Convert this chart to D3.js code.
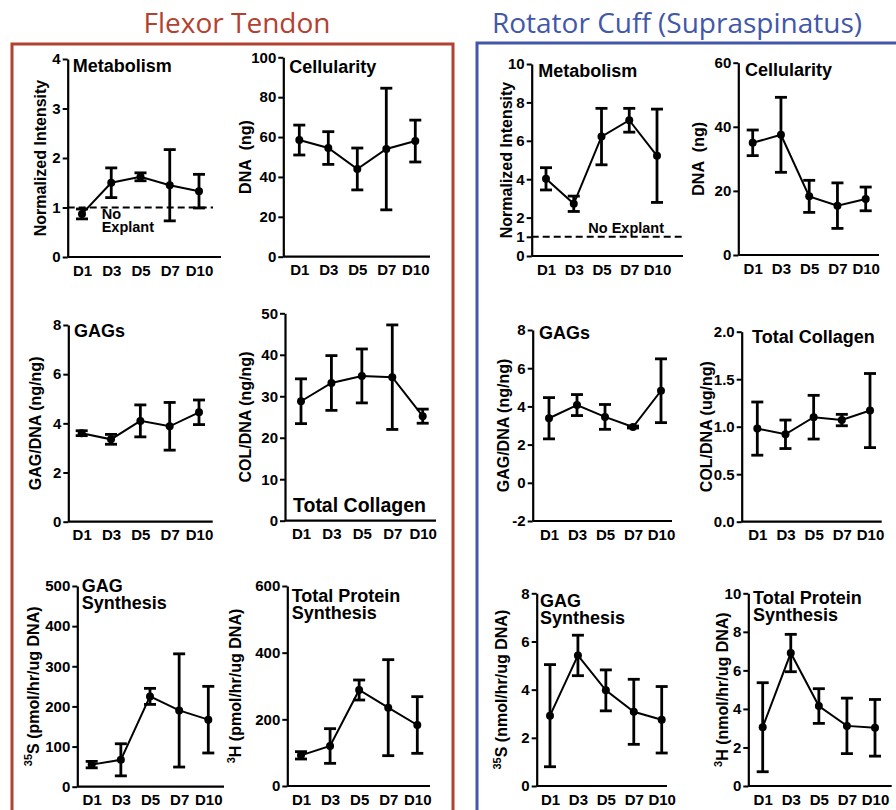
<!DOCTYPE html>
<html>
<head>
<meta charset="utf-8">
<script src="https://cdn.jsdelivr.net/npm/d3@7"></script>
<style>
  body { margin: 0; background: #fff; }
  svg { display: block; font-family: "Liberation Sans", Arial, sans-serif; }
  .tick text { font-weight: bold; font-size: 15px; fill: #000; }
</style>
</head>
<body>
<div id="my_dataviz"></div>
<script>
// categories
var days = ["D1", "D3", "D5", "D7", "D10"];

// flexor tendon (mean, sd)
var flexMetabolism = [0.87, 1.5, 1.62, 1.45, 1.33];
var flexMetabolismSd = [0.1, 0.3, 0.08, 0.72, 0.34];
var flexCellularity = [58.5, 54.5, 44, 54, 58];
var flexCellularitySd = [7.5, 8.2, 10.5, 30.5, 10.5];
var flexGags = [3.6, 3.35, 4.1, 3.88, 4.45];
var flexGagsSd = [0.1, 0.2, 0.65, 0.97, 0.5];
var flexCollagen = [28.8, 33.2, 34.9, 34.6, 25.2];
var flexCollagenSd = [5.4, 6.6, 6.5, 12.6, 1.7];
var flexGagSynth = [55, 67, 225, 190, 167];
var flexGagSynthSd = [8, 40, 20, 141, 83];
var flexProtSynth = [92, 120, 288, 235, 183];
var flexProtSynthSd = [11, 52, 30, 144, 85];

// rotator cuff (mean, sd)
var rcMetabolism = [4.02, 2.72, 6.22, 7.07, 5.22];
var rcMetabolismSd = [0.58, 0.4, 1.47, 0.62, 2.43];
var rcCellularity = [35, 37.5, 18.3, 15.4, 17.5];
var rcCellularitySd = [4, 11.7, 5, 7.1, 3.7];
var rcGags = [3.38, 4.07, 3.45, 2.92, 4.82];
var rcGagsSd = [1.08, 0.55, 0.65, 0.05, 1.67];
var rcCollagen = [0.98, 0.92, 1.1, 1.07, 1.17];
var rcCollagenSd = [0.28, 0.15, 0.23, 0.06, 0.39];
var rcGagSynth = [2.92, 5.42, 3.97, 3.08, 2.75];
var rcGagSynthSd = [2.12, 0.84, 0.85, 1.35, 1.38];
var rcProtSynth = [3.05, 6.9, 4.15, 3.12, 3.02];
var rcProtSynthSd = [2.31, 0.97, 0.9, 1.44, 1.47];

// y tick labels
var ticksMetabFlex = [0, 1, 2, 3, 4];
var ticksCellFlex = [0, 20, 40, 60, 80, 100];
var ticksMetabRc = [0, 1, 2, 4, 6, 8, 10];
var ticksCellRc = [0, 20, 40, 60];
var ticksGagFlex = [0, 2, 4, 6, 8];
var ticksColFlex = [0, 10, 20, 30, 40, 50];
var ticksGagRc = [-2, 0, 2, 4, 6, 8];
var ticksColRc = [0, 0.5, 1.0, 1.5, 2.0];
var ticksGagSynFlex = [0, 100, 200, 300, 400, 500];
var ticksProtSynFlex = [0, 200, 400, 600];
var ticksGagSynRc = [0, 2, 4, 6, 8];
var ticksProtSynRc = [0, 2, 4, 6, 8, 10];

var red = "#b3412f", blue = "#4257a9";

var svg = d3.select("#my_dataviz")
    .append("svg")
    .attr("width", 896)
    .attr("height", 810);

// section headings and boxes
svg.append("text").attr("x", 237).attr("y", 33)
    .attr("text-anchor", "middle").attr("fill", red)
    .style("font-family", "'Open Sans', 'Noto Sans', sans-serif").style("font-size", "28px")
    .text("Flexor Tendon");
svg.append("text").attr("x", 677).attr("y", 33)
    .attr("text-anchor", "middle").attr("fill", blue)
    .style("font-family", "'Open Sans', 'Noto Sans', sans-serif").style("font-size", "28px")
    .text("Rotator Cuff (Supraspinatus)");
svg.append("rect").attr("x", 12).attr("y", 44).attr("width", 441).attr("height", 800)
    .attr("fill", "none").attr("stroke", red).attr("stroke-width", 3);
svg.append("rect").attr("x", 477).attr("y", 43).attr("width", 430).attr("height", 800)
    .attr("fill", "none").attr("stroke", blue).attr("stroke-width", 3);

// panel layout
var panels = [
  {mean: flexMetabolism, sd: flexMetabolismSd, ticks: ticksMetabFlex, max: 4, min: 0,
   ax: 67.7, top: 59, bot: 257, x1: 82, x10: 199, xEnd: 221, lx: 40,
   label: "Normalized Intensity", title: ["Metabolism"], tx: 72.7, ty: 71.7,
   ref: {y: 1, x2: 213, text: ["No", "Explant"], tx: 101.7, ty: 219}},
  {mean: flexCellularity, sd: flexCellularitySd, ticks: ticksCellFlex, max: 100, min: 0,
   ax: 283.3, top: 57.3, bot: 256.7, x1: 299.3, x10: 415.3, xEnd: 430, lx: 245,
   label: "DNA\u00a0\u00a0(ng)", title: ["Cellularity"], tx: 289.3, ty: 73.3},
  {mean: rcMetabolism, sd: rcMetabolismSd, ticks: ticksMetabRc, max: 10, min: 0,
   ax: 531.7, top: 64, bot: 256, x1: 546, x10: 657, xEnd: 683, lx: 506.7,
   label: "Normalized Intensity", title: ["Metabolism"], tx: 538.3, ty: 76.7,
   ref: {y: 1, x2: 682, text: ["No Explant"], tx: 588.3, ty: 232.7}},
  {mean: rcCellularity, sd: rcCellularitySd, ticks: ticksCellRc, max: 60, min: 0,
   ax: 738.3, top: 62.7, bot: 255, x1: 752.7, x10: 865.7, xEnd: 879, lx: 698,
   label: "DNA\u00a0\u00a0(ng)", title: ["Cellularity"], tx: 745, ty: 76},
  {mean: flexGags, sd: flexGagsSd, ticks: ticksGagFlex, max: 8, min: 0,
   ax: 68.3, top: 325, bot: 521.7, x1: 81.7, x10: 199, xEnd: 212.7, lx: 35,
   label: "GAG/DNA (ng/ng)", title: ["GAGs"], tx: 74, ty: 337.3},
  {mean: flexCollagen, sd: flexCollagenSd, ticks: ticksColFlex, max: 50, min: 0,
   ax: 285, top: 313.3, bot: 520.7, x1: 301, x10: 422.7, xEnd: 436, lx: 245,
   label: "COL/DNA (ng/ng)", title: ["Total Collagen"], tx: 293, ty: 511.5, tsize: 19.5},
  {mean: rcGags, sd: rcGagsSd, ticks: ticksGagRc, max: 8, min: -2,
   ax: 532.7, top: 330, bot: 521, x1: 549, x10: 661, xEnd: 672, lx: 503,
   label: "GAG/DNA (ng/ng)", title: ["GAGs"], tx: 539, ty: 339},
  {mean: rcCollagen, sd: rcCollagenSd, ticks: ticksColRc, max: 2, min: 0, fmt: ".1f",
   ax: 741.7, top: 331.7, bot: 521.7, x1: 757.3, x10: 870, xEnd: 881.7, lx: 706.7,
   label: "COL/DNA (ug/ng)", title: ["Total Collagen"], tx: 752, ty: 343.3},
  {mean: flexGagSynth, sd: flexGagSynthSd, ticks: ticksGagSynFlex, max: 500, min: 0,
   ax: 77.3, top: 586, bot: 786.7, x1: 91.7, x10: 208.3, xEnd: 224, lx: 36.7,
   sup: "35", label: "S (pmol/hr/ug DNA)", title: ["GAG", "Synthesis"], tx: 81.7, ty: 592.3},
  {mean: flexProtSynth, sd: flexProtSynthSd, ticks: ticksProtSynFlex, max: 600, min: 0,
   ax: 287.3, top: 586, bot: 786, x1: 301, x10: 417.3, xEnd: 430, lx: 239,
   sup: "3", label: "H (pmol/hr/ug DNA)", title: ["Total Protein", "Synthesis"], tx: 291.7, ty: 601.7},
  {mean: rcGagSynth, sd: rcGagSynthSd, ticks: ticksGagSynRc, max: 8, min: 0,
   ax: 536.7, top: 593.3, bot: 786, x1: 550, x10: 661.7, xEnd: 667, lx: 505,
   sup: "35", label: "S (nmol/hr/ug DNA)", title: ["GAG", "Synthesis"], tx: 540, ty: 606.7},
  {mean: rcProtSynth, sd: rcProtSynthSd, ticks: ticksProtSynRc, max: 10, min: 0,
   ax: 748.3, top: 593.3, bot: 786, x1: 762.7, x10: 875, xEnd: 891.7, lx: 726,
   sup: "3", label: "H (nmol/hr/ug DNA)", title: ["Total Protein", "Synthesis"], tx: 753, ty: 604.3}
];

panels.forEach(function (p) {
    var g = svg.append("g");

    var y = d3.scaleLinear().domain([p.min, p.max]).range([p.bot, p.top]);
    var x = d3.scalePoint().domain(days).range([p.x1, p.x10]);

    var data = days.map(function (d, i) {
        return {day: d, mean: p.mean[i], sd: p.sd[i]};
    });

    // y axis (plain hyphen for negatives, like the original)
    var fmt = p.fmt ? d3.format(p.fmt) : function (v) { return String(v); };
    var yAxis = d3.axisLeft(y).tickValues(p.ticks).tickSize(5).tickPadding(2).tickSizeOuter(0)
        .tickFormat(fmt);
    var ya = g.append("g")
        .attr("transform", "translate(" + p.ax + ",0)")
        .call(yAxis);
    ya.select(".domain").attr("stroke-width", 2.2);
    ya.selectAll(".tick line").attr("stroke-width", 2);

    // x axis
    var xa = g.append("g")
        .attr("transform", "translate(0," + p.bot + ")")
        .call(d3.axisBottom(x).tickSize(0).tickPadding(8));
    xa.select(".domain").remove();
    g.append("line")
        .attr("x1", p.ax).attr("x2", p.xEnd)
        .attr("y1", p.bot).attr("y2", p.bot)
        .attr("stroke", "#000").attr("stroke-width", 2.2);

    // axis label
    var lab = g.append("text")
        .attr("transform", "translate(" + p.lx + "," + ((p.top + p.bot) / 2) + ") rotate(-90)")
        .attr("text-anchor", "middle")
        .attr("dy", "0.35em")
        .style("font-weight", "bold").style("font-size", "16px");
    if (p.sup) {
        lab.append("tspan").attr("dy", "-0.4em").style("font-size", "11px").text(p.sup);
        lab.append("tspan").attr("dy", "0.4em").text(p.label);
    } else {
        lab.text(p.label);
    }

    // panel title
    var ttl = g.append("text")
        .attr("x", p.tx).attr("y", p.ty)
        .style("font-weight", "bold").style("font-size", (p.tsize || 18) + "px");
    p.title.forEach(function (t, i) {
        ttl.append("tspan").attr("x", p.tx).attr("dy", i === 0 ? 0 : 16.8).text(t);
    });

    // reference line (no explant)
    if (p.ref) {
        g.append("line")
            .attr("x1", p.ax).attr("x2", p.ref.x2)
            .attr("y1", y(p.ref.y)).attr("y2", y(p.ref.y))
            .attr("stroke", "#000").attr("stroke-width", 2)
            .attr("stroke-dasharray", "7,4");
        var rt = g.append("text")
            .attr("x", p.ref.tx).attr("y", p.ref.ty)
            .style("font-weight", "bold").style("font-size", "14.5px");
        p.ref.text.forEach(function (t, i) {
            rt.append("tspan").attr("x", p.ref.tx).attr("dy", i === 0 ? 0 : 13.4).text(t);
        });
    }

    // error bars
    g.selectAll(".err")
        .data(data).enter().append("line")
        .attr("x1", function (d) { return x(d.day); })
        .attr("x2", function (d) { return x(d.day); })
        .attr("y1", function (d) { return y(d.mean - d.sd); })
        .attr("y2", function (d) { return y(d.mean + d.sd); })
        .attr("stroke", "#000").attr("stroke-width", 2.8);
    [-1, 1].forEach(function (s) {
        g.selectAll(".cap" + s)
            .data(data).enter().append("line")
            .attr("x1", function (d) { return x(d.day) - 6; })
            .attr("x2", function (d) { return x(d.day) + 6; })
            .attr("y1", function (d) { return y(d.mean + s * d.sd); })
            .attr("y2", function (d) { return y(d.mean + s * d.sd); })
            .attr("stroke", "#000").attr("stroke-width", 2.8);
    });

    // mean line
    g.append("path")
        .datum(data)
        .attr("fill", "none").attr("stroke", "#000").attr("stroke-width", 2)
        .attr("d", d3.line()
            .x(function (d) { return x(d.day); })
            .y(function (d) { return y(d.mean); }));

    g.selectAll(".pt")
        .data(data).enter().append("circle")
        .attr("cx", function (d) { return x(d.day); })
        .attr("cy", function (d) { return y(d.mean); })
        .attr("r", 4).attr("fill", "#000");
});
</script>
</body>
</html>
